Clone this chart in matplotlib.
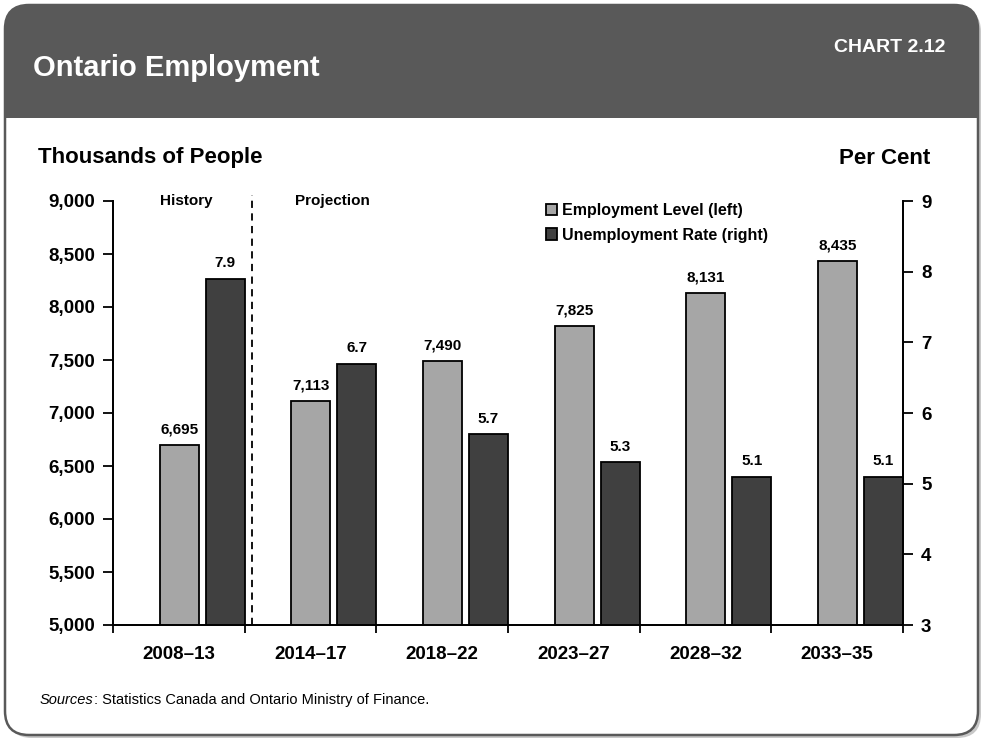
import matplotlib
matplotlib.use("Agg")
import matplotlib.pyplot as plt
from matplotlib.patches import FancyBboxPatch, Rectangle, Patch
import numpy as np

periods = ["2008–13", "2014–17", "2018–22", "2023–27", "2028–32", "2033–35"]
employment = [6695, 7113, 7490, 7825, 8131, 8435]       # thousands
unemployment = [7.9, 6.7, 5.7, 5.3, 5.1, 5.1]           # per cent

left_ticks = [5000, 5500, 6000, 6500, 7000, 7500, 8000, 8500, 9000]
right_ticks = [3, 4, 5, 6, 7, 8, 9]

LIGHT = "#a6a6a6"
DARK = "#404040"
HEADER = "#595959"

plt.rcParams["font.family"] = ["Liberation Sans Narrow", "Liberation Sans", "DejaVu Sans"]
plt.rcParams["font.weight"] = "bold"

W, H = 981, 740
fig = plt.figure(figsize=(W / 100, H / 100), dpi=100)

# frame in pixel units
bg = fig.add_axes([0, 0, 1, 1], zorder=0)
bg.set_xlim(0, W)
bg.set_ylim(H, 0)
bg.axis("off")
r = "round,pad=0,rounding_size=24"
bg.add_patch(FancyBboxPatch((8, 8), 973, 730, boxstyle=r, fc="#c8c8c8", ec="none"))
bg.add_patch(FancyBboxPatch((5, 5), 973, 730, boxstyle=r, fc=HEADER, ec="none"))
bg.add_patch(FancyBboxPatch((5, 118), 973, 617, boxstyle=r, fc="white", ec="none"))
bg.add_patch(Rectangle((5, 118), 973, 40, fc="white", ec="none"))
bg.add_patch(FancyBboxPatch((5, 5), 973, 730, boxstyle=r, fc="none", ec=HEADER, lw=1.8))

bg.text(33, 68, "Ontario Employment", color="white", fontsize=21, va="center", ha="left")
bg.text(945, 47, "CHART 2.12", color="white", fontsize=14, va="center", ha="right")
bg.text(38, 158, "Thousands of People", fontsize=16, va="center", ha="left")
bg.text(930, 158, "Per Cent", fontsize=16, va="center", ha="right")
src = bg.text(40, 700, "Sources", fontsize=10.5, style="italic", weight="normal",
              va="center", ha="left")
bg.annotate(": Statistics Canada and Ontario Ministry of Finance.", xy=(1, 0.5),
            xycoords=src, fontsize=10.5, weight="normal", va="center", ha="left")

# chart axes
x0, x1, ytop, ybot = 113, 903, 201, 625
ax = fig.add_axes([x0 / W, 1 - ybot / H, (x1 - x0) / W, (ybot - ytop) / H], zorder=1)
ax.patch.set_alpha(0)
ax2 = ax.twinx()

x = np.arange(len(periods))
bw = 0.296
xl = x + 0.003
xd = x + 0.352

ax.bar(xl, employment, width=bw, color=LIGHT, edgecolor="black", linewidth=1.3, zorder=2)
ax2.bar(xd, np.array(unemployment) - 3, bottom=3, width=bw, color=DARK,
        edgecolor="black", linewidth=1.3, zorder=2)

for xi, v in zip(xl, employment):
    ax.annotate(f"{v:,}", (xi, v), xytext=(0, 6), textcoords="offset points",
                ha="center", va="bottom", fontsize=11)
for xi, v in zip(xd, unemployment):
    ax2.annotate(f"{v:.1f}", (xi, v), xytext=(0, 6), textcoords="offset points",
                 ha="center", va="bottom", fontsize=11)

ax.set_xlim(-0.5, len(periods) - 0.5)
ax.set_ylim(5000, 9000)
ax2.set_ylim(3, 9)
ax.set_yticks(left_ticks)
ax.set_yticklabels([f"{t:,}" for t in left_ticks])
ax2.set_yticks(right_ticks)

ax.set_xticks(x)
ax.set_xticklabels(periods)
ax.set_xticks(np.arange(len(periods) + 1) - 0.5, minor=True)
ax.tick_params(axis="x", which="major", length=0, pad=15, labelsize=13.5)
ax.tick_params(axis="x", which="minor", length=6, width=1.3, direction="out")
ax.tick_params(axis="y", length=7, width=1.3, direction="out", pad=6, labelsize=13.5)
ax2.tick_params(axis="y", length=7, width=1.3, direction="out", pad=6, labelsize=13.5)

for a in (ax, ax2):
    a.spines["top"].set_visible(False)
    for s in ("left", "right", "bottom"):
        a.spines[s].set_linewidth(1.3)

# history / projection divider
ax.plot([0.555, 0.555], [5000, 9057], color="black", lw=1.3, dashes=(4, 3),
        clip_on=False, zorder=3)
ax.text(0.06, 9000, "History", ha="center", va="center", fontsize=11)
ax.text(1.17, 9000, "Projection", ha="center", va="center", fontsize=11)

handles = [Patch(fc=LIGHT, ec="black", lw=1.3), Patch(fc=DARK, ec="black", lw=1.3)]
fig.legend(handles, ["Employment Level (left)", "Unemployment Rate (right)"],
           loc="upper left", bbox_to_anchor=(546 / W, 1 - 203 / H), frameon=False,
           handlelength=0.7, handleheight=0.7, handletextpad=0.3, labelspacing=0.6,
           borderpad=0, borderaxespad=0, prop={"size": 11.5, "weight": "bold"})

fig.savefig("out.png", dpi=100)
